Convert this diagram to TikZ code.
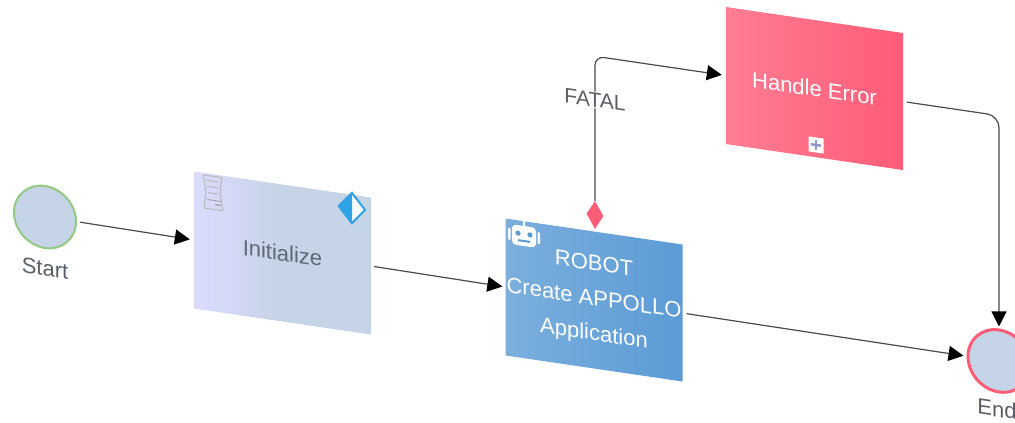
\documentclass[tikz,border=0pt]{standalone}
\usepackage{fontspec}
\setmainfont{Liberation Sans}
\usetikzlibrary{arrows.meta,shapes.geometric}
\definecolor{taskgray}{HTML}{5F6875}
\definecolor{labelgray}{HTML}{5A5F66}
\definecolor{linegray}{HTML}{4A4A4A}
\definecolor{eventfill}{HTML}{C5D4E6}
\definecolor{startgreen}{HTML}{93C983}
\definecolor{endred}{HTML}{FF5C78}
\definecolor{robotblue}{HTML}{5B9BD5}
\definecolor{markerblue}{HTML}{2FA3E6}
\tikzset{
  flow/.style={draw=linegray,line width=1.2pt,-{Triangle[length=15pt,width=15pt,color=black]}},
  task/.style={rectangle,minimum width=177pt,minimum height=137pt,inner sep=0pt,align=center,font=\fontsize{22}{35}\selectfont},
  event/.style={circle,minimum size=62pt,inner sep=0pt,fill=eventfill,line width=2pt},
  eventlabel/.style={text=labelgray,inner sep=0pt,font=\fontsize{22}{26}\selectfont}
}
\begin{document}
\begin{tikzpicture}[x=1pt,y=1pt]
\useasboundingbox (0,0) rectangle (1015,423);
\begin{scope}[yslant=-0.147,transform shape]
% events
\node [event,draw=startgreen] (start) at (45,212.6) {};
\node [eventlabel] (startlabel) at (45,161.6) {Start};
\node [event,draw=endred,line width=3pt] (end) at (999,208.9) {};
\node [eventlabel] (endlabel) at (997,160.6) {End};
% tasks
\node [task,left color=black!0!blue!14!white,right color=eventfill,middle color=eventfill,text=taskgray] (init) at (282.5,211.5) {Initialize};
\node [task,left color=robotblue!80!white,middle color=robotblue,right color=robotblue,text=white] (robot) at (594,210.3) {ROBOT\\Create APPOLLO\\Application};
\node [task,left color=endred!80!white,middle color=endred,right color=endred,text=white] (handle) at (814.5,454.2) {Handle Error};
% boundary marker
\node [diamond,fill=endred,minimum width=17pt,minimum height=28pt,inner sep=0pt] (fatalmark) at (595,295.5) {};
% connectors
\draw [flow,shorten <=3pt,shorten >=4pt] (start.east) -- (init.west);
\draw [flow,shorten <=3pt,shorten >=3pt] (init.east) -- (robot.west);
\draw [flow,shorten <=4pt,shorten >=3pt] (robot.east) -- (end.west);
\draw [flow,rounded corners=9pt,shorten >=4pt] (fatalmark.north) |- (handle.west);
\draw [flow,rounded corners=12pt,shorten <=4pt,shorten >=2pt] (handle.east) -| (end.north);
\node [fill=white,inner sep=1pt,text=labelgray,font=\fontsize{21}{25}\selectfont] (fatal) at (595,410.5) {FATAL};
% script marker
\draw [draw=gray!55,line width=1pt,rounded corners=1pt] (203,278) -- (222,278) -- (220,262) -- (223,245) -- (204,245) -- (206,262) -- cycle;
\draw [draw=gray!55,line width=1pt] (206,273) -- (218,273);
\draw [draw=gray!55,line width=1pt] (207,267) -- (218,267);
\draw [draw=gray!55,line width=1pt] (208,261) -- (218,261);
\draw [draw=gray!70,line width=1pt] (207,254) -- (221,254);
\draw [draw=gray!70,line width=1.5pt] (215,250) -- (221,250);
% service marker
\node [diamond,draw=markerblue,fill=white,line width=2pt,minimum width=27pt,minimum height=31pt,inner sep=0pt] (servicemark) at (352,266.7) {};
\fill [markerblue] (servicemark.north) -- (servicemark.west) -- (servicemark.south) -- cycle;
% robot icon
\fill [white,rounded corners=4pt] (512,254) rectangle (536,274);
\fill [white,rounded corners=1pt] (508,258) rectangle (510.5,270);
\fill [white,rounded corners=1pt] (537.5,258) rectangle (540,270);
\fill [white] (523,274) rectangle (525,279);
\fill [white] (524,280) circle [radius=2];
\fill [robotblue] (518,266) circle [radius=2.6];
\fill [robotblue] (530,266) circle [radius=2.6];
\fill [robotblue] (518,258) rectangle (530,260);
% subprocess marker
\node [rectangle,fill=white,minimum size=15pt,inner sep=0pt] (submark) at (816,398) {};
\draw [draw=gray!60!blue!60,line width=2.5pt] (submark.center) ++(-5,0) -- ++(10,0);
\draw [draw=gray!60!blue!60,line width=2.5pt] (submark.center) ++(0,-5) -- ++(0,10);
\end{scope}
\end{tikzpicture}
\end{document}
